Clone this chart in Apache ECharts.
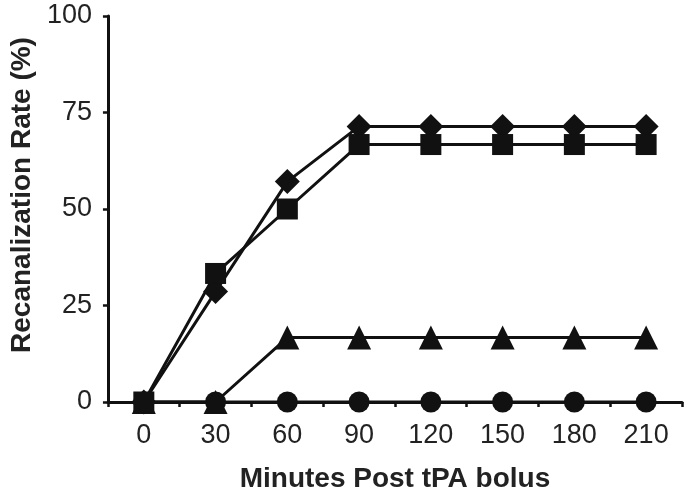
<!DOCTYPE html>
<html>
<head>
<meta charset="utf-8">
<script src="https://cdn.jsdelivr.net/npm/echarts@6/dist/echarts.min.js"></script>
<style>html,body{margin:0;padding:0;background:#fff;}#c{width:685px;height:498px;}</style>
</head>
<body>
<div id="c"></div>
<script>
var categories = ['0', '30', '60', '90', '120', '150', '180', '210'];
var yTicks = [0, 25, 50, 75, 100];
var circleVals = [0, 0, 0, 0, 0, 0, 0, 0];
var triangleVals = [0, 0, 16.7, 16.7, 16.7, 16.7, 16.7, 16.7];
var squareVals = [0, 33.3, 50, 66.7, 66.7, 66.7, 66.7, 66.7];
var diamondVals = [0, 28.6, 57.1, 71.4, 71.4, 71.4, 71.4, 71.4];

var chart = echarts.init(document.getElementById('c'));
var FONT = 'Liberation Sans, Arial, sans-serif';
function mk(name, data, symbol, size) {
  return {
    name: name, type: 'line', data: data, symbol: symbol, symbolSize: size,
    showAllSymbol: true,
    lineStyle: { color: '#111', width: 3 },
    itemStyle: { color: '#111', borderWidth: 0 },
    emphasis: { disabled: true },
    animation: false
  };
}
chart.setOption({
  animation: false,
  grid: { left: 96, right: 3, top: 16, bottom: 96, containLabel: false },
  xAxis: {
    type: 'category', data: categories, boundaryGap: true,
    name: 'Minutes Post tPA bolus', nameLocation: 'middle', nameGap: 63,
    nameTextStyle: { fontFamily: FONT, fontWeight: 'bold', fontSize: 28, color: '#222' },
    axisLine: { lineStyle: { color: '#111', width: 3 } },
    axisTick: { show: true, length: 5, lineStyle: { color: '#111', width: 2.5 }, alignWithLabel: false },
    axisLabel: { fontFamily: FONT, fontSize: 27, color: '#222', margin: 20 },
    splitLine: { show: false }
  },
  yAxis: {
    type: 'value', min: yTicks[0], max: yTicks[yTicks.length - 1], interval: 25,
    name: 'Recanalization Rate (%)', nameLocation: 'middle', nameGap: 65, nameRotate: 90,
    nameTextStyle: { fontFamily: FONT, fontWeight: 'bold', fontSize: 28, color: '#222', padding: [0, 0, 0, 28] },
    axisLine: { show: true, lineStyle: { color: '#111', width: 3 } },
    axisTick: { show: true, length: 5, lineStyle: { color: '#111', width: 2.5 } },
    axisLabel: { fontFamily: FONT, fontSize: 27, color: '#222', margin: 16 },
    splitLine: { show: false }
  },
  series: [
    mk('circle', circleVals, 'circle', 21),
    mk('triangle', triangleVals, 'triangle', 24),
    mk('diamond', diamondVals, 'diamond', 25),
    mk('square', squareVals, 'rect', 21)
  ]
});
</script>
</body>
</html>
